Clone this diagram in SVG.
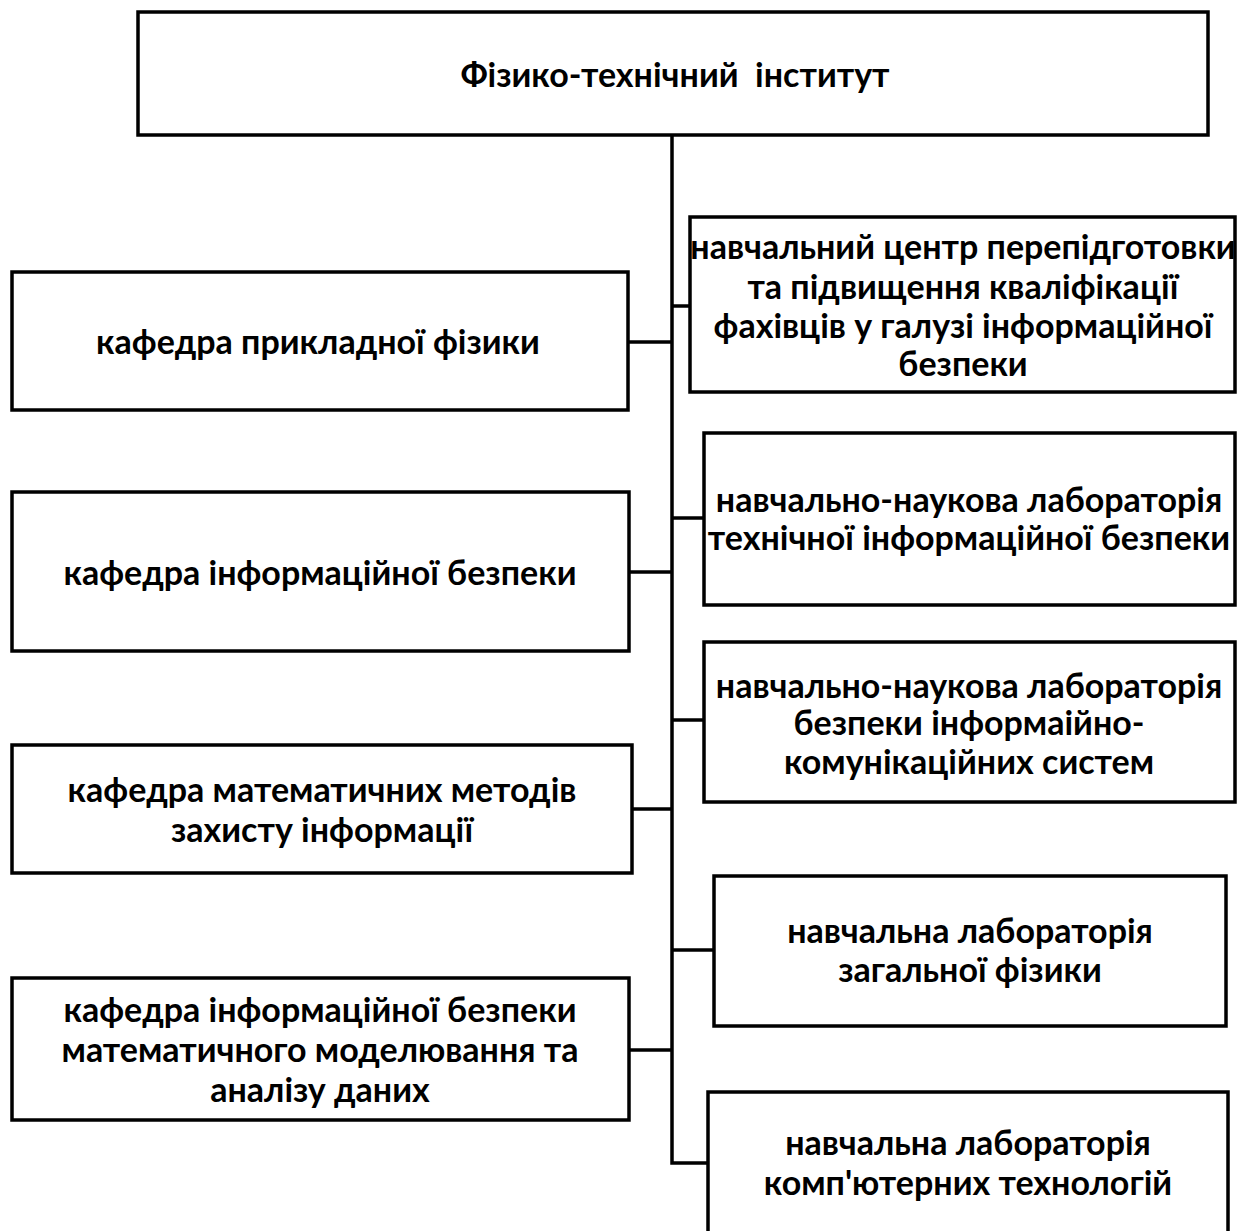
<svg xmlns="http://www.w3.org/2000/svg" width="1246" height="1231" viewBox="0 0 1246 1231">
<style>
.box{fill:#fff;stroke:#000;stroke-width:3.5}
.ln{fill:none;stroke:#000;stroke-width:3.5}
text{font-family:Lato,"Open Sans","Liberation Sans",sans-serif;font-weight:bold;font-size:34px;fill:#000;text-anchor:middle}
</style>
<rect width="1246" height="1231" fill="#fff"/>
<g id="connectors">
<path class="ln" d="M672 135 V1163 H708"/>
<path class="ln" d="M628 342 H672"/>
<path class="ln" d="M672 306 H690"/>
<path class="ln" d="M672 518 H704"/>
<path class="ln" d="M629 572 H672"/>
<path class="ln" d="M672 720 H704"/>
<path class="ln" d="M632 809 H672"/>
<path class="ln" d="M672 950 H714"/>
<path class="ln" d="M629 1050 H672"/>
</g>
<g id="n0"><rect class="box" x="138" y="12" width="1070" height="123"/><text x="675" y="87" xml:space="preserve">Фізико-технічний  інститут</text></g>
<g id="l1"><rect class="box" x="12" y="272" width="616" height="138"/><text x="318" y="354">кафедра прикладної фізики</text></g>
<g id="l2"><rect class="box" x="12" y="492" width="617" height="159"/><text x="320" y="585">кафедра інформаційної безпеки</text></g>
<g id="l3"><rect class="box" x="12" y="745" width="620" height="128"/><text x="322" y="802">кафедра математичних методів</text><text x="322" y="842">захисту інформації</text></g>
<g id="l4"><rect class="box" x="12" y="978" width="617" height="142"/><text x="320" y="1022">кафедра інформаційної безпеки</text><text x="320" y="1062">математичного моделювання та</text><text x="320" y="1102">аналізу даних</text></g>
<g id="r1"><rect class="box" x="690" y="217" width="545" height="175"/><text x="963" y="259">навчальний центр перепідготовки</text><text x="963" y="299">та підвищення кваліфікації</text><text x="963" y="338">фахівців у галузі інформаційної</text><text x="963" y="376">безпеки</text></g>
<g id="r2"><rect class="box" x="704" y="433" width="531" height="172"/><text x="969" y="512">навчально-наукова лабораторія</text><text x="969" y="550">технічної інформаційної безпеки</text></g>
<g id="r3"><rect class="box" x="704" y="642" width="531" height="160"/><text x="969" y="698">навчально-наукова лабораторія</text><text x="969" y="735">безпеки інформаійно-</text><text x="969" y="774">комунікаційних систем</text></g>
<g id="r4"><rect class="box" x="714" y="876" width="512" height="150"/><text x="970" y="943">навчальна лабораторія</text><text x="970" y="982">загальної фізики</text></g>
<g id="r5"><rect class="box" x="708" y="1092" width="520" height="150"/><text x="968" y="1155">навчальна лабораторія</text><text x="968" y="1195">комп'ютерних технологій</text></g>
</svg>
